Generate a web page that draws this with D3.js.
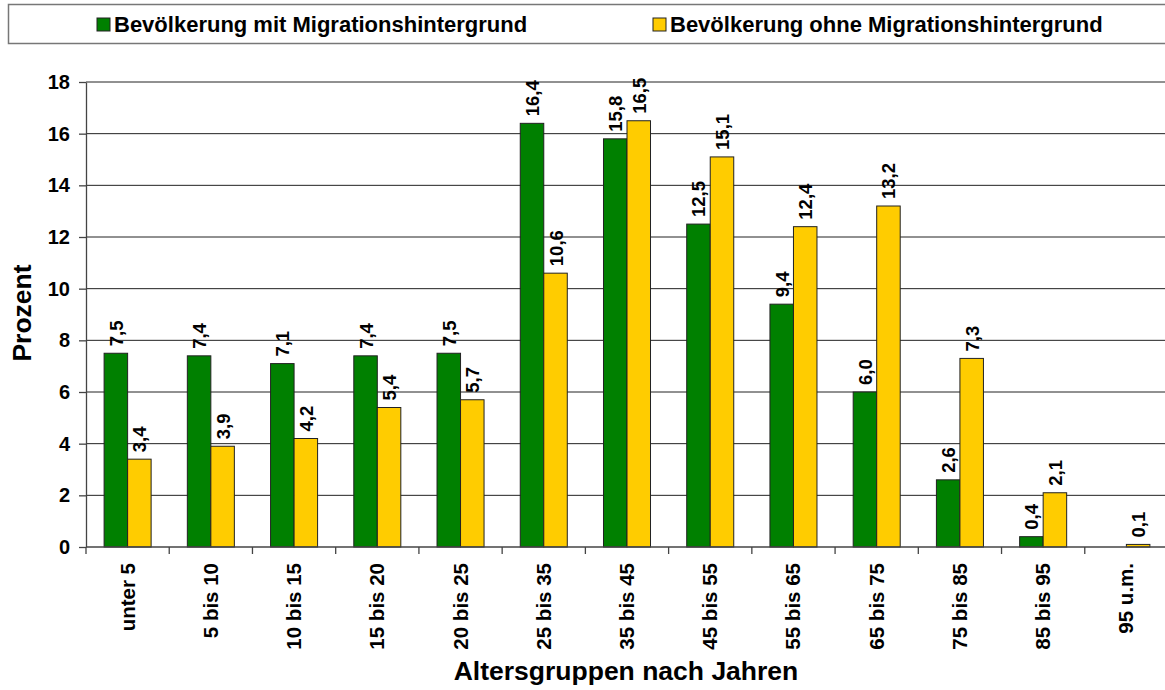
<!DOCTYPE html>
<html>
<head>
<meta charset="UTF-8" />
<title>Altersgruppen</title>
<script src="https://d3js.org/d3.v7.min.js"></script>
<style type="text/css">
body {
    margin: 0;
    background-color: #fff;
    font-family: "Liberation Sans", Arial, sans-serif;
}
.grid line {
    stroke: #222;
    stroke-width: 1px;
}
.axis path, .axis line {
    stroke: #444;
    stroke-width: 1.3px;
}
.bars rect {
    stroke: #222;
    stroke-width: 1px;
}
text {
    font-weight: bold;
    fill: #000;
}
</style>
</head>
<body>
<svg id="chart" width="1165" height="690"></svg>
<script type="text/javascript">
var categories = ['unter 5', '5 bis 10', '10 bis 15', '15 bis 20', '20 bis 25', '25 bis 35',
    '35 bis 45', '45 bis 55', '55 bis 65', '65 bis 75', '75 bis 85', '85 bis 95', '95 u.m.'];
var mitMigration = [7.5, 7.4, 7.1, 7.4, 7.5, 16.4, 15.8, 12.5, 9.4, 6.0, 2.6, 0.4, null];
var ohneMigration = [3.4, 3.9, 4.2, 5.4, 5.7, 10.6, 16.5, 15.1, 12.4, 13.2, 7.3, 2.1, 0.1];
var seriesNames = ['Bevölkerung mit Migrationshintergrund', 'Bevölkerung ohne Migrationshintergrund'];
var colors = ['#008000', '#ffcc00'];
var yTicks = [0, 2, 4, 6, 8, 10, 12, 14, 16, 18];

(function() {
    var svg = d3.select('#chart');
    var pLeft = 86, pRight = 1168, pTop = 82, pBottom = 547;

    var x = d3.scaleBand().domain(categories).range([pLeft, pRight]).paddingInner(0).paddingOuter(0);
    var x1 = d3.scaleBand().domain([0, 1]).range([0, x.bandwidth()]).paddingOuter(0.77).paddingInner(0);
    var y = d3.scaleLinear().domain([0, 18]).range([pBottom, pTop]);

    // gridlines
    svg.append('g').attr('class', 'grid').selectAll('line').data(yTicks.slice(1))
        .enter().append('line')
        .attr('x1', pLeft).attr('x2', 1165)
        .attr('y1', function(d) { return y(d); })
        .attr('y2', function(d) { return y(d); });

    // bars + value labels
    var series = [mitMigration, ohneMigration];
    var barG = svg.append('g').attr('class', 'bars');
    series.forEach(function(vals, s) {
        var rows = categories.map(function(c, i) { return {cat: c, v: vals[i]}; })
            .filter(function(d) { return d.v != null; });
        barG.selectAll('rect.s' + s).data(rows).enter().append('rect')
            .attr('class', 's' + s)
            .attr('x', function(d) { return x(d.cat) + x1(s); })
            .attr('width', x1.bandwidth())
            .attr('y', function(d) { return y(d.v); })
            .attr('height', function(d) { return y(0) - y(d.v); })
            .attr('fill', colors[s]);

        svg.append('g').selectAll('text').data(rows).enter().append('text')
            .attr('transform', function(d) {
                return 'translate(' + (x(d.cat) + x1(s) + x1.bandwidth() / 2 + 7) + ',' + (y(d.v) - 7) + ') rotate(-90)';
            })
            .attr('font-size', 18.5)
            .text(function(d) { return d3.format('.1f')(d.v).replace('.', ','); });
    });

    // y axis
    var yAxis = svg.append('g').attr('class', 'axis')
        .attr('transform', 'translate(' + pLeft + ',0)')
        .call(d3.axisLeft(y).tickValues(yTicks).tickSize(7).tickSizeOuter(0).tickPadding(9));
    yAxis.selectAll('text').attr('font-size', 20).attr('font-family', '"Liberation Sans", Arial, sans-serif');

    // x axis, ticks on band edges
    var xAxis = svg.append('g').attr('class', 'axis');
    xAxis.append('line').attr('x1', pLeft).attr('x2', 1165).attr('y1', pBottom).attr('y2', pBottom);
    xAxis.selectAll('line.tk').data(categories).enter().append('line').attr('class', 'tk')
        .attr('x1', function(d) { return x(d); }).attr('x2', function(d) { return x(d); })
        .attr('y1', pBottom).attr('y2', pBottom + 7);
    svg.append('g').selectAll('text').data(categories).enter().append('text')
        .attr('transform', function(d) {
            return 'translate(' + (x(d) + x.bandwidth() / 2 + 7) + ',' + (pBottom + 16) + ') rotate(-90)';
        })
        .attr('text-anchor', 'end')
        .attr('font-size', 20.5)
        .text(function(d) { return d; });

    // axis titles
    svg.append('text').attr('x', 626).attr('y', 680).attr('text-anchor', 'middle')
        .attr('font-size', 26.5).text('Altersgruppen nach Jahren');
    svg.append('text').attr('transform', 'translate(31,313) rotate(-90)').attr('text-anchor', 'middle')
        .attr('font-size', 26.5).text('Prozent');

    // legend
    svg.append('rect').attr('x', 8.5).attr('y', 4.5).attr('width', 1170).attr('height', 39)
        .attr('fill', '#fff').attr('stroke', '#777').attr('stroke-width', 1.5);
    var legX = [97, 653];
    seriesNames.forEach(function(n, i) {
        svg.append('rect').attr('x', legX[i]).attr('y', 18).attr('width', 13).attr('height', 13)
            .attr('fill', colors[i]).attr('stroke', '#222').attr('stroke-width', 1);
        svg.append('text').attr('x', legX[i] + 17).attr('y', 32).attr('font-size', 22).text(n);
    });
})();
</script>
</body>
</html>
